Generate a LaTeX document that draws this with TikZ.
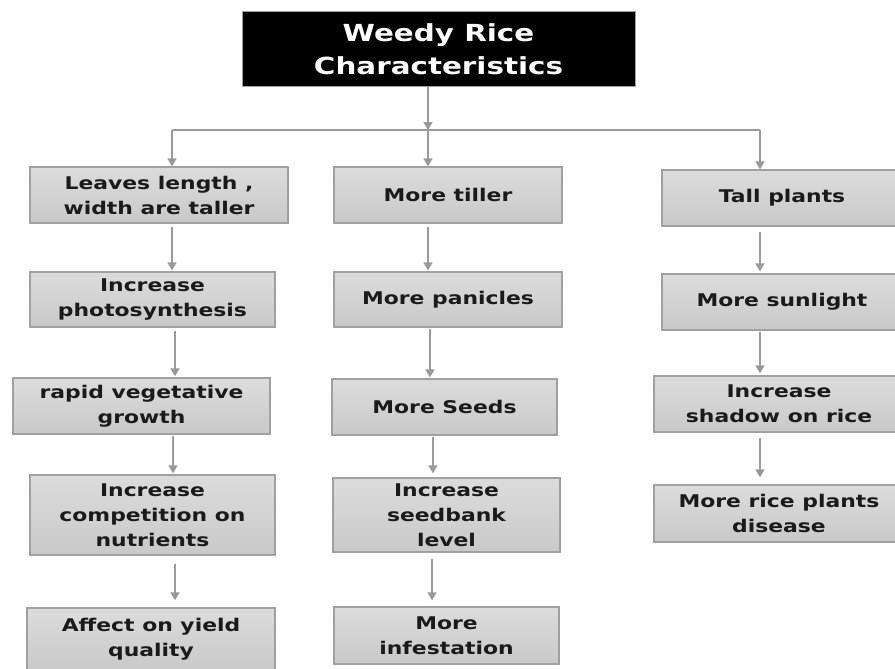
\documentclass[tikz,border=0pt]{standalone}
\usepackage{fontspec}
\setmainfont{DejaVu Sans}[FakeStretch=1.25]
\usetikzlibrary{arrows.meta}
\definecolor{boxfillA}{HTML}{DCDCDC}
\definecolor{boxfillB}{HTML}{C9C9C9}
\definecolor{boxline}{HTML}{A0A0A0}
\definecolor{arrowc}{HTML}{9A9A9A}
\definecolor{txt}{HTML}{1A1A1A}
\tikzset{
  gbox/.style={draw=boxline, line width=1.2pt, top color=boxfillA, bottom color=boxfillB,
    minimum width=#1, inner sep=0pt, align=center, text=txt,
    font=\fontsize{17.5}{25}\selectfont\bfseries},
  conn/.style={draw=arrowc, line width=1.6pt, -{Triangle[width=9pt,length=8pt]}},
  plainconn/.style={draw=arrowc, line width=1.6pt}
}
\begin{document}
\begin{tikzpicture}[x=1pt,y=-1pt]
\useasboundingbox (0,0) rectangle (895,669);
% title
\node[fill=black, draw=boxline, line width=1pt, minimum width=393pt, minimum height=75pt, inner sep=0pt,
  align=center, text=white, font=\fontsize{23.5}{33}\selectfont\bfseries] (title) at (438.5,49.5)
  {Weedy Rice\\Characteristics};
% left column
\node[gbox=258pt, minimum height=56pt] (L1) at (159,195) {Leaves length ,\\width are taller};
\node[gbox=245pt, minimum height=55pt] (L2) at (152.5,299.5) {Increase\\photosynthesis};
\node[gbox=257pt, minimum height=56pt] (L3) at (141.5,406) {rapid vegetative\\growth};
\node[gbox=245pt, minimum height=80pt] (L4) at (152.5,515) {Increase\\competition on\\nutrients};
\node[gbox=248pt, minimum height=62pt] (L5) at (151,639) {Affect on yield\\quality};
% middle column
\node[gbox=228pt, minimum height=56pt] (M1) at (448,195) {More tiller};
\node[gbox=228pt, minimum height=55pt] (M2) at (448,299.5) {More panicles};
\node[gbox=225pt, minimum height=56pt] (M3) at (444.5,407) {More Seeds};
\node[gbox=227pt, minimum height=74pt] (M4) at (446.5,515) {Increase\\seedbank\\level};
\node[gbox=225pt, minimum height=57pt] (M5) at (446.5,635.5) {More\\infestation};
% right column
\node[gbox=240pt, minimum height=56pt] (R1) at (782,198) {Tall plants};
\node[gbox=240pt, minimum height=56pt] (R2) at (782,302) {More sunlight};
\node[gbox=250pt, minimum height=56pt] (R3) at (779,404) {Increase\\shadow on rice};
\node[gbox=250pt, minimum height=57pt] (R4) at (779,513.5) {More rice plants\\disease};
% hub connectors
\coordinate (hub) at (428,130);
\coordinate (hubL) at (172,130);
\coordinate (hubR) at (760,130);
\draw[plainconn] (hubL) -- (hubR);
\draw[conn] (title.south -| hub) -- (hub);
\draw[conn] (hub) -- (M1.north -| hub);
\draw[conn] (hubL) -- (L1.north -| hubL);
\draw[conn] (hubR) -- (R1.north -| hubR);
% left arrows
\draw[conn] ([yshift=-3pt]L1.south -| 172,0) -- ([yshift=1pt]L2.north -| 172,0);
\draw[conn] ([yshift=-3pt]L2.south -| 175,0) -- ([yshift=1pt]L3.north -| 175,0);
\draw[conn] ([yshift=-1pt]L3.south -| 173,0) -- ([yshift=1pt]L4.north -| 173,0);
\draw[conn] ([yshift=-8pt]L4.south -| 175,0) -- ([yshift=7pt]L5.north -| 175,0);
% middle arrows
\draw[conn] ([yshift=-3pt]M1.south -| 428,0) -- ([yshift=1pt]M2.north -| 428,0);
\draw[conn] ([yshift=-1pt]M2.south -| 430,0) -- ([yshift=1pt]M3.north -| 430,0);
\draw[conn] ([yshift=-1pt]M3.south -| 433,0) -- ([yshift=4pt]M4.north -| 433,0);
\draw[conn] ([yshift=-6pt]M4.south -| 432,0) -- ([yshift=6pt]M5.north -| 432,0);
% right arrows
\draw[conn] ([yshift=-5pt]R1.south -| 760,0) -- ([yshift=2pt]R2.north -| 760,0);
\draw[conn] ([yshift=-1pt]R2.south -| 760,0) -- ([yshift=2pt]R3.north -| 760,0);
\draw[conn] ([yshift=-5pt]R3.south -| 760,0) -- ([yshift=7pt]R4.north -| 760,0);
\end{tikzpicture}
\end{document}
